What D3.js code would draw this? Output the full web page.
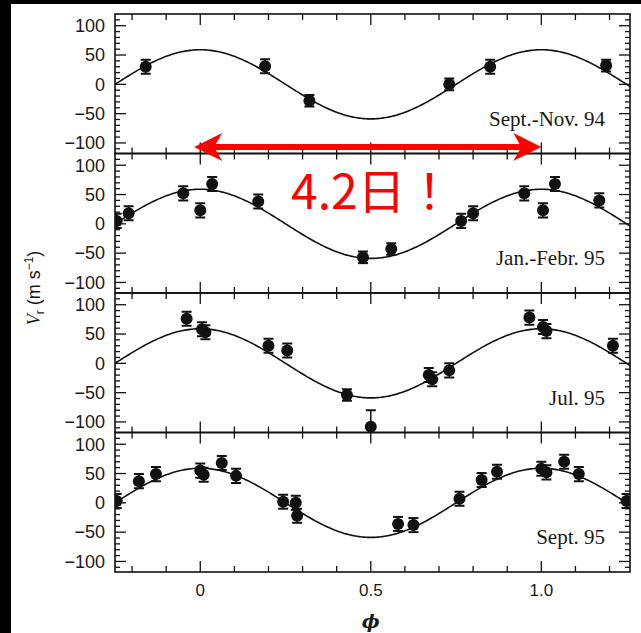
<!DOCTYPE html>
<html>
<head>
<meta charset="utf-8">
<script src="https://d3js.org/d3.v7.min.js"></script>
<style>
  body { margin: 0; background: #000; }
  svg { display: block; }
</style>
</head>
<body>
<script>
const panelLabels = ['Sept.-Nov. 94', 'Jan.-Febr. 95', 'Jul. 95', 'Sept. 95'];

const phiSepNov94 = [-0.16, 0.19, 0.32, 0.73, 0.85, 1.19];
const vSepNov94   = [30, 31, -28, 0, 30, 32];
const errSepNov94 = [12, 12, 10, 10, 12, 10];

const phiJanFeb95 = [-0.245, -0.21, -0.05, 0.0, 0.035, 0.17, 0.477, 0.56, 0.765, 0.80, 0.95, 1.005, 1.04, 1.17];
const vJanFeb95   = [5, 18, 52, 23, 68, 38, -57, -43, 5, 18, 52, 23, 68, 40];
const errJanFeb95 = [12, 12, 12, 12, 12, 12, 10, 10, 12, 12, 12, 12, 12, 12];

const phiJul95 = [-0.04, 0.005, 0.015, 0.2, 0.255, 0.43, 0.5, 0.67, 0.68, 0.73, 0.965, 1.005, 1.015, 1.21];
const vJul95   = [76, 58, 53, 30, 22, -54, -108, -20, -27, -12, 78, 62, 55, 30];
const errJul95 = [12, 12, 12, 12, 12, 10, 28, 12, 12, 12, 12, 12, 12, 12];

const phiSep95 = [-0.245, -0.18, -0.13, 0.0, 0.01, 0.063, 0.105, 0.243, 0.28, 0.284, 0.58, 0.625, 0.76, 0.825, 0.87, 1.0, 1.015, 1.067, 1.11, 1.25];
const vSep95   = [3, 37, 49, 55, 48, 68, 46, 2, 0, -22, -36, -38, 7, 39, 53, 58, 52, 70, 49, 3];
const errSep95 = [12, 12, 12, 12, 12, 12, 12, 12, 12, 12, 12, 12, 12, 12, 12, 12, 12, 12, 12, 12];

const yTickLabels = [100, 50, 0, -50, -100];
const xTickLabels = [0, 0.5, 1.0];
const fitAmplitude = 59; // m/s, sine fit

const panels = [
  { phi: phiSepNov94, v: vSepNov94, err: errSepNov94 },
  { phi: phiJanFeb95, v: vJanFeb95, err: errJanFeb95 },
  { phi: phiJul95, v: vJul95, err: errJul95 },
  { phi: phiSep95, v: vSep95, err: errSep95 }
];

const width = 641, height = 633;
const plotLeft = 115, plotRight = 630, plotTop = 14, plotBottom = 572;
const panelH = (plotBottom - plotTop) / panels.length;

const svg = d3.select('body').append('svg')
  .attr('width', width)
  .attr('height', height);

// black border of the scan + white page
svg.append('rect').attr('width', width).attr('height', height).attr('fill', '#000');
svg.append('rect').attr('x', 11).attr('y', 4).attr('width', width - 11).attr('height', height - 4).attr('fill', '#fff');

const x = d3.scaleLinear().domain([-0.25, 1.26]).range([plotLeft, plotRight]);

const minorX = d3.range(-2, 13).map(d => d / 10);
const isMajorX = d => Math.abs(d) < 1e-9 || Math.abs(d - 0.5) < 1e-9 || Math.abs(d - 1) < 1e-9;
const minorY = d3.range(-11, 12).map(d => d * 10);

const curvePts = d3.range(-0.25, 1.2601, 0.005);

panels.forEach((p, i) => {
  const y0 = plotTop + i * panelH, y1 = y0 + panelH;
  const y = d3.scaleLinear().domain([-118, 120]).range([y1, y0]);
  const g = svg.append('g');

  g.append('rect')
    .attr('x', plotLeft).attr('y', y0)
    .attr('width', plotRight - plotLeft).attr('height', panelH)
    .attr('fill', 'none').attr('stroke', '#111').attr('stroke-width', 1.6);

  // y ticks, both sides, pointing inward
  minorY.forEach(v => {
    const len = v % 50 === 0 ? 11 : 5;
    g.append('line').attr('x1', plotLeft).attr('x2', plotLeft + len)
      .attr('y1', y(v)).attr('y2', y(v)).attr('stroke', '#111').attr('stroke-width', 1.3);
    g.append('line').attr('x1', plotRight).attr('x2', plotRight - len)
      .attr('y1', y(v)).attr('y2', y(v)).attr('stroke', '#111').attr('stroke-width', 1.3);
  });

  // x ticks on top and bottom edges, inward
  minorX.forEach(d => {
    const len = isMajorX(d) ? 11 : 6;
    g.append('line').attr('x1', x(d)).attr('x2', x(d))
      .attr('y1', y0).attr('y2', y0 + len).attr('stroke', '#111').attr('stroke-width', 1.3);
    g.append('line').attr('x1', x(d)).attr('x2', x(d))
      .attr('y1', y1).attr('y2', y1 - len).attr('stroke', '#111').attr('stroke-width', 1.3);
  });

  // y tick labels
  g.selectAll('.ylab').data(yTickLabels).enter().append('text')
    .attr('x', 105).attr('y', d => y(d)).attr('dy', '0.35em')
    .attr('text-anchor', 'end')
    .attr('font-family', 'Liberation Sans, Arial, sans-serif')
    .attr('font-size', 18).attr('fill', '#1a1a1a')
    .text(d => d < 0 ? '\u2212' + Math.abs(d) : d);

  // sine fit
  const clip = 'clip' + i;
  svg.append('clipPath').attr('id', clip).append('rect')
    .attr('x', plotLeft).attr('y', y0).attr('width', plotRight - plotLeft).attr('height', panelH);

  g.append('path')
    .datum(curvePts)
    .attr('clip-path', 'url(#' + clip + ')')
    .attr('fill', 'none').attr('stroke', '#111').attr('stroke-width', 1.6)
    .attr('d', d3.line().x(d => x(d)).y(d => y(fitAmplitude * Math.cos(2 * Math.PI * d))));

  // data with error bars
  const data = p.phi.map((ph, k) => ({ phi: ph, v: p.v[k], e: p.err[k] }));
  const pts = g.append('g').attr('clip-path', 'url(#' + clip + ')');
  pts.selectAll('.eb').data(data).enter().append('line')
    .attr('x1', d => x(d.phi)).attr('x2', d => x(d.phi))
    .attr('y1', d => y(d.v - d.e)).attr('y2', d => y(d.v + d.e))
    .attr('stroke', '#111').attr('stroke-width', 1.5);
  pts.selectAll('.capt').data(data).enter().append('line')
    .attr('x1', d => x(d.phi) - 5).attr('x2', d => x(d.phi) + 5)
    .attr('y1', d => y(d.v + d.e)).attr('y2', d => y(d.v + d.e))
    .attr('stroke', '#111').attr('stroke-width', 2);
  pts.selectAll('.capb').data(data).enter().append('line')
    .attr('x1', d => x(d.phi) - 5).attr('x2', d => x(d.phi) + 5)
    .attr('y1', d => y(d.v - d.e)).attr('y2', d => y(d.v - d.e))
    .attr('stroke', '#111').attr('stroke-width', 2);
  pts.selectAll('circle').data(data).enter().append('circle')
    .attr('cx', d => x(d.phi)).attr('cy', d => y(d.v)).attr('r', 6)
    .attr('fill', '#111');

  g.append('text')
    .attr('x', 605).attr('y', y(-71))
    .attr('text-anchor', 'end')
    .attr('font-family', 'Liberation Serif, Times New Roman, serif')
    .attr('font-size', 21).attr('fill', '#1a1a1a')
    .text(panelLabels[i]);

  p.y = y;
});

// x tick labels
svg.selectAll('.xlab').data(xTickLabels).enter().append('text')
  .attr('x', d => x(d)).attr('y', 596)
  .attr('text-anchor', 'middle')
  .attr('font-family', 'Liberation Sans, Arial, sans-serif')
  .attr('font-size', 17).attr('fill', '#1a1a1a')
  .text(d => d === 0 ? '0' : d.toFixed(1));

svg.append('text')
  .attr('x', x(0.5)).attr('y', 628)
  .attr('text-anchor', 'middle')
  .attr('font-family', 'DejaVu Serif, serif')
  .attr('font-style', 'italic').attr('font-weight', 'bold')
  .attr('font-size', 19).attr('fill', '#1a1a1a')
  .text('\u03d5');

// y axis label
const ylab = svg.append('text')
  .attr('transform', 'translate(40,288) rotate(-90)')
  .attr('text-anchor', 'middle')
  .attr('font-family', 'Liberation Sans, Arial, sans-serif')
  .attr('font-size', 18).attr('fill', '#1a1a1a');
ylab.append('tspan').attr('font-style', 'italic').attr('font-family', 'Liberation Serif, serif').text('V');
ylab.append('tspan').attr('font-size', 12).attr('dy', 4).text('r');
ylab.append('tspan').attr('dy', -4).text(' (m s');
ylab.append('tspan').attr('font-size', 12).attr('dy', -7).text('\u22121');
ylab.append('tspan').attr('dy', 7).text(')');

// red annotation: one period
const arrowY = panels[0].y(-107);
const xa = x(-0.018), xb = x(1.0);
svg.append('line')
  .attr('x1', xa + 16).attr('x2', xb - 16)
  .attr('y1', arrowY).attr('y2', arrowY)
  .attr('stroke', '#ff0000').attr('stroke-width', 6);
[[xa, 1], [xb, -1]].forEach(([tx, s]) => {
  svg.append('path')
    .attr('d', `M${tx},${arrowY} L${tx + s * 28},${arrowY - 14} L${tx + s * 20},${arrowY} L${tx + s * 28},${arrowY + 14} Z`)
    .attr('fill', '#ff0000');
});

svg.append('text')
  .attr('x', 291).attr('y', 209)
  .attr('font-family', 'Noto Sans CJK JP, Noto Sans, sans-serif')
  .attr('font-size', 48).attr('fill', '#ff0000')
  .text('4.2日！');
</script>
</body>
</html>
